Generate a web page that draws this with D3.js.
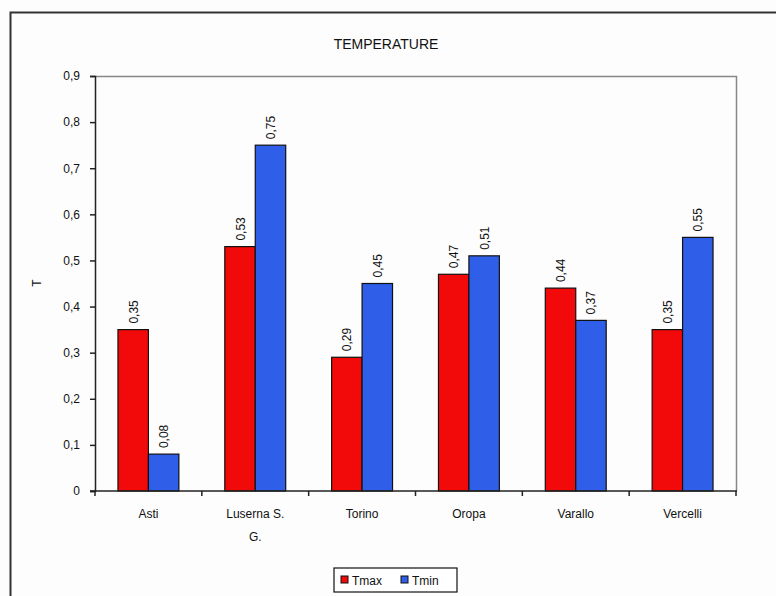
<!DOCTYPE html>
<html lang="it">
  <head>
    <meta charset="UTF-8" />
    <title>Temperature</title>
    <script src="https://cdn.jsdelivr.net/npm/d3@7"></script>
    <style>
      body { margin: 0; background: #fff; }
      text { font-family: "Liberation Sans", Arial, sans-serif; fill: #111; }
    </style>
  </head>
  <body>
    <script>
      // data
      var cities = ["Asti", "Luserna S. G.", "Torino", "Oropa", "Varallo", "Vercelli"];
      var tmax = [0.35, 0.53, 0.29, 0.47, 0.44, 0.35];
      var tmin = [0.08, 0.75, 0.45, 0.51, 0.37, 0.55];
      var seriesNames = ["Tmax", "Tmin"];
      var seriesColors = ["#f20a0a", "#2f5fe8"];
      var yTicks = [0, 0.1, 0.2, 0.3, 0.4, 0.5, 0.6, 0.7, 0.8, 0.9];

      var W = 776, H = 596;
      var pL = 95, pR = 736, pT = 76, pB = 491;

      var svg = d3.select("body").append("svg")
        .attr("width", W).attr("height", H);

      svg.append("rect").attr("width", W).attr("height", H).attr("fill", "#fdfdfd");

      // outer frame (cut at right and bottom)
      svg.append("rect")
        .attr("x", 10.5).attr("y", 12.5)
        .attr("width", 800).attr("height", 700)
        .attr("fill", "none").attr("stroke", "#333").attr("stroke-width", 2);

      var x = d3.scaleBand().domain(cities).range([pL, pR])
        .paddingInner(0.43).paddingOuter(0.215);
      var xs = d3.scaleBand().domain(seriesNames).range([0, x.bandwidth()]);
      var y = d3.scaleLinear().domain([0, 0.9]).range([pB, pT]);
      var fmt = function (v) { return d3.format(".2f")(v).replace(".", ","); };

      // plot frame top/right
      svg.append("path")
        .attr("d", "M" + pL + "," + (pT + 0.5) + "H" + (pR + 0.5) + "V" + pB)
        .attr("fill", "none").attr("stroke", "#888").attr("stroke-width", 1.5);

      var rows = cities.map(function (c, i) {
        return { city: c, vals: [tmax[i], tmin[i]] };
      });

      var g = svg.selectAll(".grp").data(rows).enter().append("g")
        .attr("transform", function (d) { return "translate(" + x(d.city) + ",0)"; });

      g.selectAll("rect").data(function (d) {
        return d.vals.map(function (v, j) { return { s: seriesNames[j], v: v, j: j }; });
      }).enter().append("rect")
        .attr("x", function (d) { return xs(d.s); })
        .attr("y", function (d) { return y(d.v); })
        .attr("width", xs.bandwidth())
        .attr("height", function (d) { return pB - y(d.v); })
        .attr("fill", function (d) { return seriesColors[d.j]; })
        .attr("stroke", "#111").attr("stroke-width", 1.2);

      g.selectAll(".lbl").data(function (d) {
        return d.vals.map(function (v, j) { return { s: seriesNames[j], v: v }; });
      }).enter().append("text")
        .attr("transform", function (d) {
          return "translate(" + (xs(d.s) + xs.bandwidth() / 2 + 4.5) + "," + (y(d.v) - 6) + ") rotate(-90)";
        })
        .attr("font-size", 12)
        .text(function (d) { return fmt(d.v); });

      // y axis
      var yAxis = d3.axisLeft(y).tickValues(yTicks).tickSize(5)
        .tickFormat(function (v) { return v === 0 ? "0" : d3.format(".1f")(v).replace(".", ","); });
      var ya = svg.append("g").attr("transform", "translate(" + pL + ",0)").call(yAxis);
      ya.select(".domain").attr("stroke", "#222").attr("stroke-width", 1.5);
      ya.selectAll(".tick line").attr("stroke", "#222").attr("stroke-width", 1.5);
      ya.selectAll("text").attr("font-size", 12).attr("x", -15)
        .style("font-family", "Liberation Sans, Arial, sans-serif");

      // x axis with ticks at group boundaries
      var xa = svg.append("g");
      xa.append("line").attr("x1", pL - 5).attr("x2", pR + 1)
        .attr("y1", pB).attr("y2", pB)
        .attr("stroke", "#222").attr("stroke-width", 1.5);
      var step = x.step();
      xa.selectAll(".tk").data(d3.range(cities.length + 1)).enter().append("line")
        .attr("x1", function (i) { return pL + i * step; })
        .attr("x2", function (i) { return pL + i * step; })
        .attr("y1", pB).attr("y2", pB + 5)
        .attr("stroke", "#222").attr("stroke-width", 1.5);

      var labelLines = { "Luserna S. G.": ["Luserna S.", "G."] };
      var xl = xa.selectAll(".xl").data(cities).enter().append("text")
        .attr("text-anchor", "middle")
        .attr("font-size", 12)
        .attr("x", function (d) { return x(d) + x.bandwidth() / 2; })
        .attr("y", pB + 27);
      xl.selectAll("tspan").data(function (d) { return labelLines[d] || [d]; })
        .enter().append("tspan")
        .attr("x", function () { return this.parentNode.getAttribute("x"); })
        .attr("dy", function (d, i) { return i === 0 ? 0 : 23; })
        .text(function (d) { return d; });

      // title and axis title
      svg.append("text").attr("x", 386).attr("y", 49).attr("text-anchor", "middle")
        .attr("font-size", 14).text("TEMPERATURE");
      svg.append("text").attr("transform", "translate(41,283) rotate(-90)")
        .attr("text-anchor", "middle").attr("font-size", 12).text("T");

      // legend
      var lg = svg.append("g").attr("transform", "translate(334,568)");
      lg.append("rect").attr("width", 123).attr("height", 24)
        .attr("fill", "#fff").attr("stroke", "#111").attr("stroke-width", 1.2);
      var items = lg.selectAll(".li").data(seriesNames).enter().append("g")
        .attr("transform", function (d, i) { return "translate(" + (7 + i * 60) + ",0)"; });
      items.append("rect").attr("y", 8).attr("width", 7).attr("height", 7)
        .attr("fill", function (d, i) { return seriesColors[i]; })
        .attr("stroke", "#111");
      items.append("text").attr("x", 11).attr("y", 17).attr("font-size", 12)
        .text(function (d) { return d; });
    </script>
  </body>
</html>
